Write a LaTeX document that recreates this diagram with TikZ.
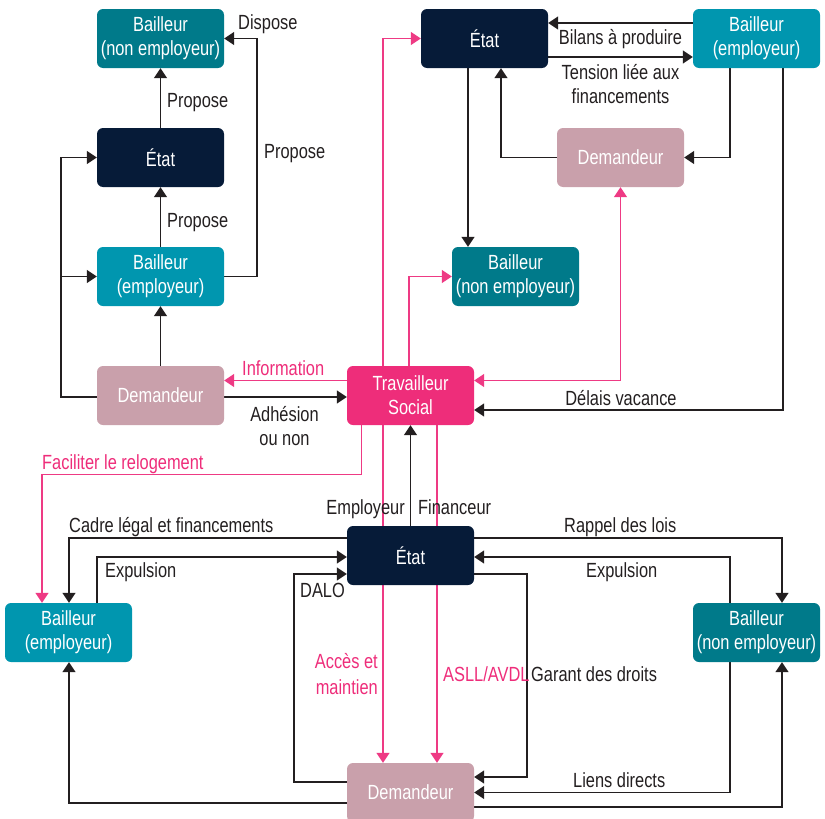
\documentclass[tikz,border=0pt]{standalone}
\usepackage{fontspec}
\setmainfont{Liberation Sans}[FakeStretch=0.8]
\usetikzlibrary{arrows.meta,calc}
\definecolor{etat}{HTML}{061B38}
\definecolor{bne}{HTML}{007A8A}
\definecolor{bemp}{HTML}{0096AF}
\definecolor{dem}{HTML}{C9A0AB}
\definecolor{tsoc}{HTML}{EE2D7A}
\definecolor{pinkl}{HTML}{EE3A84}
\definecolor{ink}{HTML}{231F20}
\pgfdeclarelayer{bg}
\pgfsetlayers{bg,main}
\begin{document}
\begin{tikzpicture}[x=1pt,y=-1pt,
 box/.style={rounded corners=6pt, minimum width=127pt, minimum height=59pt, inner sep=0pt, text=white, align=center, font=\fontsize{20.5}{24}\selectfont},
 lbl/.style={inner sep=0pt, text=ink, font=\fontsize{20.5}{23}\selectfont},
 plbl/.style={lbl, text=tsoc},
 arr/.style={draw=ink, line width=1.5pt, -{Triangle[width=13pt,length=10pt]}},
 parr/.style={draw=pinkl, line width=1.3pt, -{Triangle[width=13pt,length=10pt]}},
]
\useasboundingbox (0,0) rectangle (825,819);

% boxes
\node[box, fill=bne]  (bne1) at (160.5,38.5) {Bailleur\\(non employeur)};
\node[box, fill=etat] (e1)   at (160.5,157.5) {État};
\node[box, fill=bemp] (be1)  at (160.5,276.5) {Bailleur\\(employeur)};
\node[box, fill=dem]  (d1)   at (160.5,395.5) {Demandeur};
\node[box, fill=tsoc] (ts)   at (410.5,395.5) {Travailleur\\Social};
\node[box, fill=etat] (e2)   at (484.5,38.5) {État};
\node[box, fill=bemp] (be2)  at (756.5,38.5) {Bailleur\\(employeur)};
\node[box, fill=dem]  (d2)   at (620.5,157.5) {Demandeur};
\node[box, fill=bne]  (bne2) at (515.5,276.5) {Bailleur\\(non employeur)};
\node[box, fill=etat] (e3)   at (410.5,555.5) {État};
\node[box, fill=bemp] (be3)  at (68.5,632.5) {Bailleur\\(employeur)};
\node[box, fill=bne]  (bne3) at (756.5,632.5) {Bailleur\\(non employeur)};
\node[box, fill=dem]  (d3)   at (410.5,792.5) {Demandeur};

% labels
\node[lbl, anchor=base west] (l1) at (167,107) {Propose};
\node[lbl, anchor=base west] (l2) at (167,227) {Propose};
\node[lbl, anchor=base west] (l3) at (264,158) {Propose};
\node[lbl, anchor=base west] (l4) at (238,30) {Dispose};
\node[plbl, anchor=base west] (l5) at (242,375) {Information};
\node[lbl, anchor=base] (l6) at (284.5,421) {Adhésion};
\node[lbl, anchor=base] (l6b) at (284.5,445) {ou non};
\node[plbl, anchor=base west] (l7) at (42,469) {Faciliter le relogement};
\node[lbl, anchor=base] (l8) at (621,405) {Délais vacance};
\node[lbl, anchor=base] (l9) at (620.5,45) {Bilans à produire};
\node[lbl, anchor=base] (l10) at (620.5,79) {Tension liée aux};
\node[lbl, anchor=base] (l10b) at (620.5,103) {financements};
\node[lbl, anchor=base east] (l11) at (405,514) {Employeur};
\node[lbl, anchor=base west] (l12) at (418,514) {Financeur};
\node[lbl, anchor=base west] (l13) at (69,532) {Cadre légal et financements};
\node[lbl, anchor=base west] (l14) at (105,577) {Expulsion};
\node[lbl, anchor=base west] (l15) at (300,597) {DALO};
\node[plbl, anchor=base east] (l16) at (378,668) {Accès et};
\node[plbl, anchor=base east] (l16b) at (378,694) {maintien};
\node[plbl, anchor=base west] (l17) at (443,681) {ASLL/AVDL};
\node[lbl, anchor=base west] (l18) at (531,681) {Garant des droits};
\node[lbl, anchor=base west] (l19) at (564,532) {Rappel des lois};
\node[lbl, anchor=base west] (l20) at (586,577) {Expulsion};
\node[lbl, anchor=base west] (l21) at (573,787) {Liens directs};

\begin{pgfonlayer}{bg}
% top-left cluster
\draw[arr] (e1.north) -- (bne1.south);
\draw[arr] (be1.north) -- (e1.south);
\draw[arr] (be1.east) -- ++(33,0) |- (bne1.east);
\draw[arr] (d1.north) -- (be1.south);
\draw[arr] ([yshift=-1.5pt]d1.west) -- ++(-36,0) |- (e1.west);
\draw[arr] ([xshift=-36pt,yshift=-1.5pt]d1.west) |- (be1.west);
\draw[parr] ([yshift=15pt]ts.west) -- ([yshift=15pt]d1.east);
\draw[arr] ([yshift=-1.5pt]d1.east) -- ([yshift=-1.5pt]ts.west);
\draw[parr] ([xshift=-49pt]ts.south) -- ++(0,49) -| ([xshift=-26.5pt]be3.north);
% pink up
\draw[parr] ([xshift=-27.5pt]ts.north) |- (e2.west);
\draw[parr] ([xshift=-1.5pt]ts.north) |- (bne2.west);
\draw[parr, {Triangle[width=13pt,length=10pt]}-{Triangle[width=13pt,length=10pt]}] ([yshift=15pt]ts.east) -| (d2.south);
\draw[arr] ([xshift=26.5pt]be2.south) |- ([yshift=-14.5pt]ts.east);
% top-right cluster
\draw[arr] ([yshift=15.5pt]be2.west) -- ([yshift=15.5pt]e2.east);
\draw[arr] ([yshift=-18.5pt]e2.east) -- ([yshift=-18.5pt]be2.west);
\draw[arr] ([xshift=-16.5pt]e2.south) -- ([xshift=-16.5pt]e2.south |- bne2.north);
\draw[arr] (d2.west) -| ([xshift=16.5pt]e2.south);
\draw[arr] ([xshift=-26.5pt]be2.south) |- (d2.east);
% centre
\draw[arr] (e3.north) -- (ts.south);
\draw[parr] ([xshift=-27.5pt]ts.south) -- ([xshift=-27.5pt]d3.north);
\draw[parr] ([xshift=26.5pt]ts.south) -- ([xshift=26.5pt]d3.north);
% bottom-left
\draw[arr] ([yshift=17.5pt]e3.west) -| ([xshift=0.5pt]be3.north);
\draw[arr] ([xshift=28.5pt]be3.north) |- ([yshift=-1.5pt]e3.west);
\draw[arr] ([yshift=10.5pt]d3.west) -- ++(-53,0) |- ([yshift=-18.5pt]e3.west);
\draw[arr] ([yshift=-10.5pt]d3.west) -| ([xshift=0.5pt]be3.south);
% bottom-right
\draw[arr] ([yshift=17.5pt]e3.east) -| ([xshift=25.5pt]bne3.north);
\draw[arr] ([xshift=-26.5pt]bne3.north) |- ([yshift=-1.5pt]e3.east);
\draw[arr] ([yshift=-18.5pt]e3.east) -- ++(53,0) |- ([yshift=15.5pt]d3.east);
\draw[arr] ([xshift=-26.5pt]bne3.south) |- (d3.east);
\draw[arr] ([yshift=-14.5pt]d3.east) -| ([xshift=25.5pt]bne3.south);
\end{pgfonlayer}
\end{tikzpicture}
\end{document}
